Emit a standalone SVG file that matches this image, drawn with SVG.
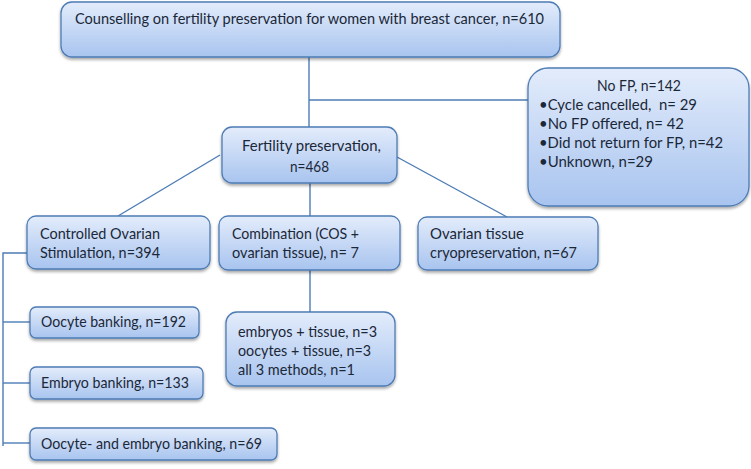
<svg xmlns="http://www.w3.org/2000/svg" width="751" height="469" viewBox="0 0 751 469">
<style>
.box{fill:url(#g);stroke:#4d7cb5;stroke-width:1.3;filter:url(#sh)}
.ln{stroke:#4d7cb5;stroke-width:1.4;fill:none}
text{font-family:Lato,"Open Sans","Liberation Sans",sans-serif;font-size:15px;fill:#1b2838}
</style>
<defs>
<linearGradient id="g" x1="0" y1="0" x2="0" y2="1">
<stop offset="0" stop-color="#e3ecfb"/>
<stop offset="1" stop-color="#a8c4ef"/>
</linearGradient>
<filter id="sh" x="-10%" y="-10%" width="120%" height="130%">
<feDropShadow dx="0" dy="2" stdDeviation="1.5" flood-color="#000" flood-opacity="0.35"/>
</filter>
</defs>
<rect width="751" height="469" fill="#fff"/>
<g id="connectors">
<path class="ln" d="M309 57V127"/>
<path class="ln" d="M309 100H529"/>
<path class="ln" d="M220 155L118 216"/>
<path class="ln" d="M397 157L507 217"/>
<path class="ln" d="M310 183V216"/>
<path class="ln" d="M310 270V312"/>
<path class="ln" d="M27 253H3V446"/>
<path class="ln" d="M3 322H30"/>
<path class="ln" d="M3 383H30"/>
<path class="ln" d="M3 443H30"/>
</g>
<g id="counselling">
<rect class="box" x="61" y="2" width="499" height="55" rx="11"/>
<text x="75" y="24" textLength="469" lengthAdjust="spacingAndGlyphs">Counselling on fertility preservation for women with breast cancer, n=610</text>
</g>
<g id="nofp">
<rect class="box" x="528" y="68" width="221" height="138" rx="20"/>
<text x="597" y="91" textLength="84" lengthAdjust="spacingAndGlyphs">No FP, n=142</text>
<text x="539" y="110" textLength="158" lengthAdjust="spacingAndGlyphs" xml:space="preserve">•Cycle cancelled,  n= 29</text>
<text x="539" y="129" textLength="145" lengthAdjust="spacingAndGlyphs">•No FP offered, n= 42</text>
<text x="539" y="148" textLength="184" lengthAdjust="spacingAndGlyphs">•Did not return for FP, n=42</text>
<text x="539" y="167" textLength="114" lengthAdjust="spacingAndGlyphs">•Unknown, n=29</text>
</g>
<g id="fp">
<rect class="box" x="222" y="127" width="175" height="56" rx="10"/>
<text x="242" y="151" textLength="139" lengthAdjust="spacingAndGlyphs">Fertility preservation,</text>
<text x="290" y="172" textLength="39" lengthAdjust="spacingAndGlyphs">n=468</text>
</g>
<g id="cos">
<rect class="box" x="27" y="216" width="183" height="53" rx="9"/>
<text x="40" y="239" textLength="120" lengthAdjust="spacingAndGlyphs">Controlled Ovarian</text>
<text x="40" y="258" textLength="120" lengthAdjust="spacingAndGlyphs">Stimulation, n=394</text>
</g>
<g id="combination">
<rect class="box" x="219" y="216" width="181" height="54" rx="9"/>
<text x="232" y="239" textLength="127" lengthAdjust="spacingAndGlyphs">Combination (COS +</text>
<text x="232" y="258" textLength="127" lengthAdjust="spacingAndGlyphs">ovarian tissue), n= 7</text>
</g>
<g id="ovarian">
<rect class="box" x="418" y="217" width="180" height="53" rx="9"/>
<text x="430" y="239" textLength="94" lengthAdjust="spacingAndGlyphs">Ovarian tissue</text>
<text x="430" y="258" textLength="147" lengthAdjust="spacingAndGlyphs">cryopreservation, n=67</text>
</g>
<g id="oocyte">
<rect class="box" x="30" y="307" width="169" height="31" rx="6"/>
<text x="41" y="327" textLength="145" lengthAdjust="spacingAndGlyphs">Oocyte banking, n=192</text>
</g>
<g id="embryo">
<rect class="box" x="30" y="367" width="173" height="32" rx="6"/>
<text x="41" y="388" textLength="148" lengthAdjust="spacingAndGlyphs">Embryo banking, n=133</text>
</g>
<g id="oocyte-embryo">
<rect class="box" x="30" y="428" width="247" height="32" rx="6"/>
<text x="41" y="449" textLength="221" lengthAdjust="spacingAndGlyphs">Oocyte- and embryo banking, n=69</text>
</g>
<g id="combo-detail">
<rect class="box" x="226" y="312" width="169" height="74" rx="11"/>
<text x="238" y="337" textLength="139" lengthAdjust="spacingAndGlyphs">embryos + tissue, n=3</text>
<text x="238" y="356" textLength="133" lengthAdjust="spacingAndGlyphs">oocytes + tissue, n=3</text>
<text x="238" y="375" textLength="117" lengthAdjust="spacingAndGlyphs">all 3 methods, n=1</text>
</g>
</svg>
